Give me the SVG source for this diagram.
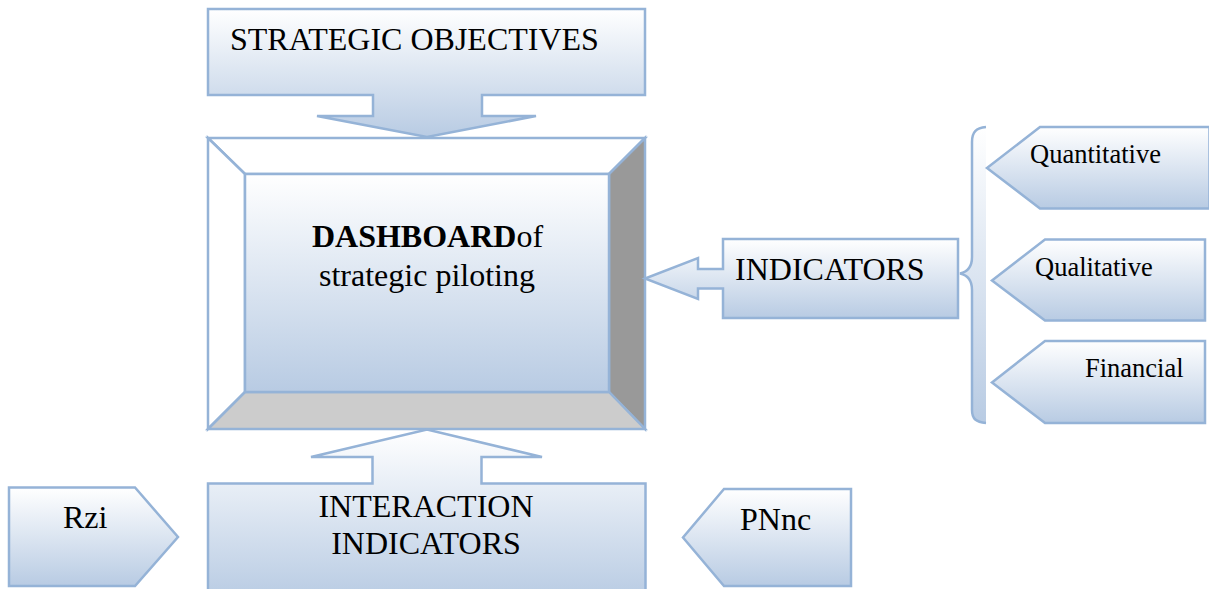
<svg xmlns="http://www.w3.org/2000/svg" width="1209" height="589" viewBox="0 0 1209 589">
<style>
.s{stroke:#95b3d7;stroke-width:2.5;stroke-linejoin:miter}
.f{fill:url(#g)}
.t{font-family:"Liberation Serif","Times New Roman",serif;fill:#000}
.big{font-size:32px}
.sm{font-size:26.5px}
</style>
<defs>
<linearGradient id="g" x1="0" y1="0" x2="0" y2="1">
<stop offset="0" stop-color="#ffffff"/>
<stop offset="1" stop-color="#b8cbe3"/>
</linearGradient>
</defs>
<rect width="1209" height="589" fill="#ffffff"/>

<g id="strategic">
<path class="s f" d="M208,9 H645 V95 H482 V116 H536 L427,137 L317,116 H373 V95 H208 Z"/>
<text class="t big" x="230" y="50">STRATEGIC OBJECTIVES</text>
</g>

<g id="dashboard">
<polygon class="s" fill="#ffffff" points="208,138 645,138 609,174 245,174"/>
<polygon class="s" fill="#ffffff" points="208,138 245,174 245,392 208,429"/>
<polygon class="s" fill="#999999" points="645,138 645,429 609,392 609,174"/>
<polygon class="s" fill="#cccccc" points="208,429 245,392 609,392 645,429"/>
<rect class="s f" x="245" y="174" width="364" height="218"/>
<text class="t big" x="427.5" y="247" text-anchor="middle"><tspan font-weight="bold">DASHBOARD</tspan>of</text>
<text class="t big" x="427" y="286" text-anchor="middle">strategic piloting</text>
</g>

<g id="indicators">
<path class="s f" d="M723,239 H958 V318 H723 V288.5 H698 V299 L645,278.5 L698,258 V269 H723 Z"/>
<text class="t big" x="735" y="280">INDICATORS</text>
</g>

<g id="brace">
<path d="M986,127 C976,128 972,132 972,142 V257 C972,267 967,272 960,273.5 C967,275 972,280 972,290 V410 C972,419 976,422 986,423 Z" fill="url(#g)" stroke="none"/>
<path class="s" fill="none" d="M986,127 C976,128 972,132 972,142 V257 C972,267 967,272 960,273.5 C967,275 972,280 972,290 V410 C972,419 976,422 986,423"/>
</g>

<g id="quantitative">
<polygon class="s f" points="1040,127 1209.5,127 1209.5,208.5 1040,208.5 987,168"/>
<text class="t sm" x="1030" y="163">Quantitative</text>
</g>

<g id="qualitative">
<polygon class="s f" points="1045,239.5 1205,239.5 1205,320.5 1045,320.5 992,280.5"/>
<text class="t sm" x="1035" y="275.5">Qualitative</text>
</g>

<g id="financial">
<polygon class="s f" points="1045,341 1205,341 1205,423 1045,423 992,382.5"/>
<text class="t sm" x="1085" y="377">Financial</text>
</g>

<g id="interaction">
<path class="s f" d="M208,600 V483.5 H372.5 V457 H311 L427,429.5 L542,457 H481.5 V483.5 H645.5 V600"/>
<text class="t big" x="426" y="517" text-anchor="middle">INTERACTION</text>
<text class="t big" x="426" y="554" text-anchor="middle">INDICATORS</text>
</g>

<g id="rzi">
<polygon class="s f" points="9,487.5 135,487.5 178,537 135,586 9,586"/>
<text class="t big" x="63" y="528">Rzi</text>
</g>

<g id="pnnc">
<polygon class="s f" points="724,489 851,489 851,586 724,586 683,537.5"/>
<text class="t big" x="740" y="529.5">PNnc</text>
</g>

<g id="connectors"></g>
</svg>
